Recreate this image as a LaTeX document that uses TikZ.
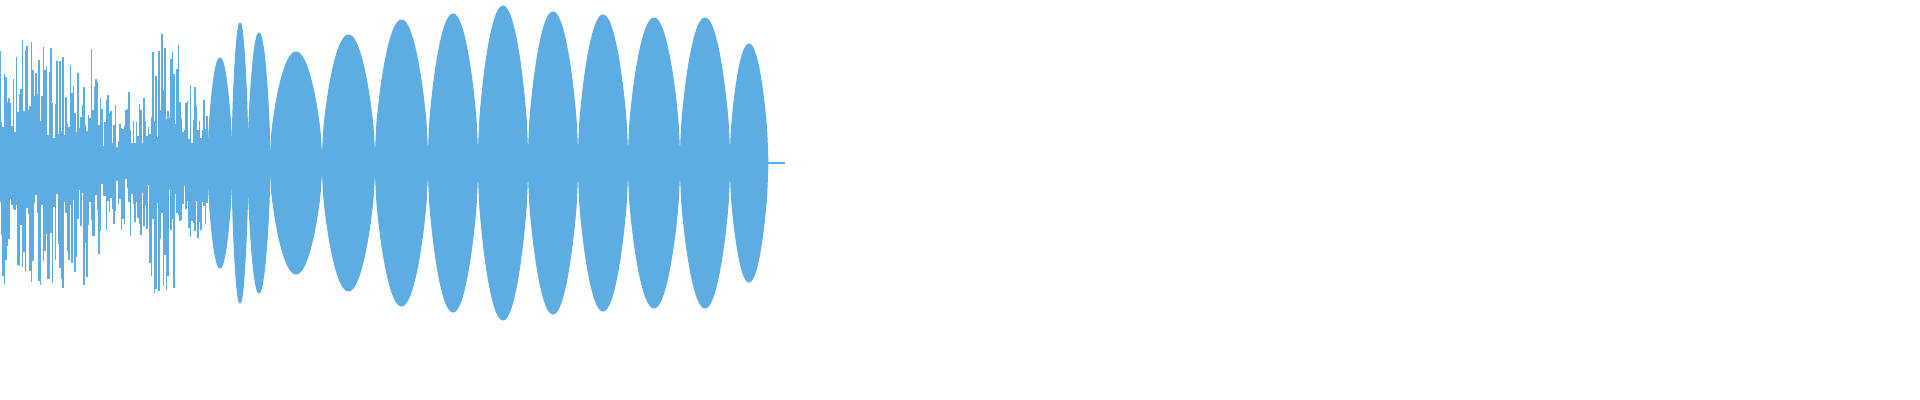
\documentclass[tikz,border=0pt]{standalone}
\usetikzlibrary{calc}
\definecolor{wavec}{HTML}{5DADE2}
\tikzset{
  wave/.style={draw=wavec,line width=0.4pt},
  lobe/.style={fill=wavec,draw=wavec,line width=0.3pt}
}
\begin{document}
\begin{tikzpicture}[x=0.01cm,y=0.01cm]
  \useasboundingbox (0,-237) rectangle (1920,163);
  \pgfmathsetseed{7}
  % noisy start
  \foreach \i in {0,...,139}{
    \pgfmathsetmacro{\xx}{1.5*\i}
    \pgfmathsetmacro{\env}{\xx<100 ? 125 : (\xx<150 ? 75 : (\xx<180 ? 130 : 80))}
    \pgfmathsetmacro{\aa}{\env*(0.2+0.8*rnd)}
    \pgfmathsetmacro{\bb}{\env*(0.2+0.8*rnd)}
    \draw[wave] (\xx,-\bb) -- (\xx,\aa);
  }
  % lobes: start/end/amplitude
  \foreach \s/\e/\a in {208/232/105, 232/248/140, 248/270/130, 270/322/111,
      322/375/128, 375/428/143, 428/478/149, 478/528/157, 528/578/151,
      578/628/148, 628/680/145, 680/730/145, 730/768/119}{
    \fill[lobe] plot[domain=\s:\e,samples=30,smooth] (\x,{\a*pow(abs(sin(180*(\x-\s)/(\e-\s))),0.6)})
      -- plot[domain=\e:\s,samples=30,smooth] (\x,{-\a*pow(abs(sin(180*(\x-\s)/(\e-\s))),0.6)}) -- cycle;
  }
  \draw[wave] (0,0) -- (785,0);
\end{tikzpicture}
\end{document}
